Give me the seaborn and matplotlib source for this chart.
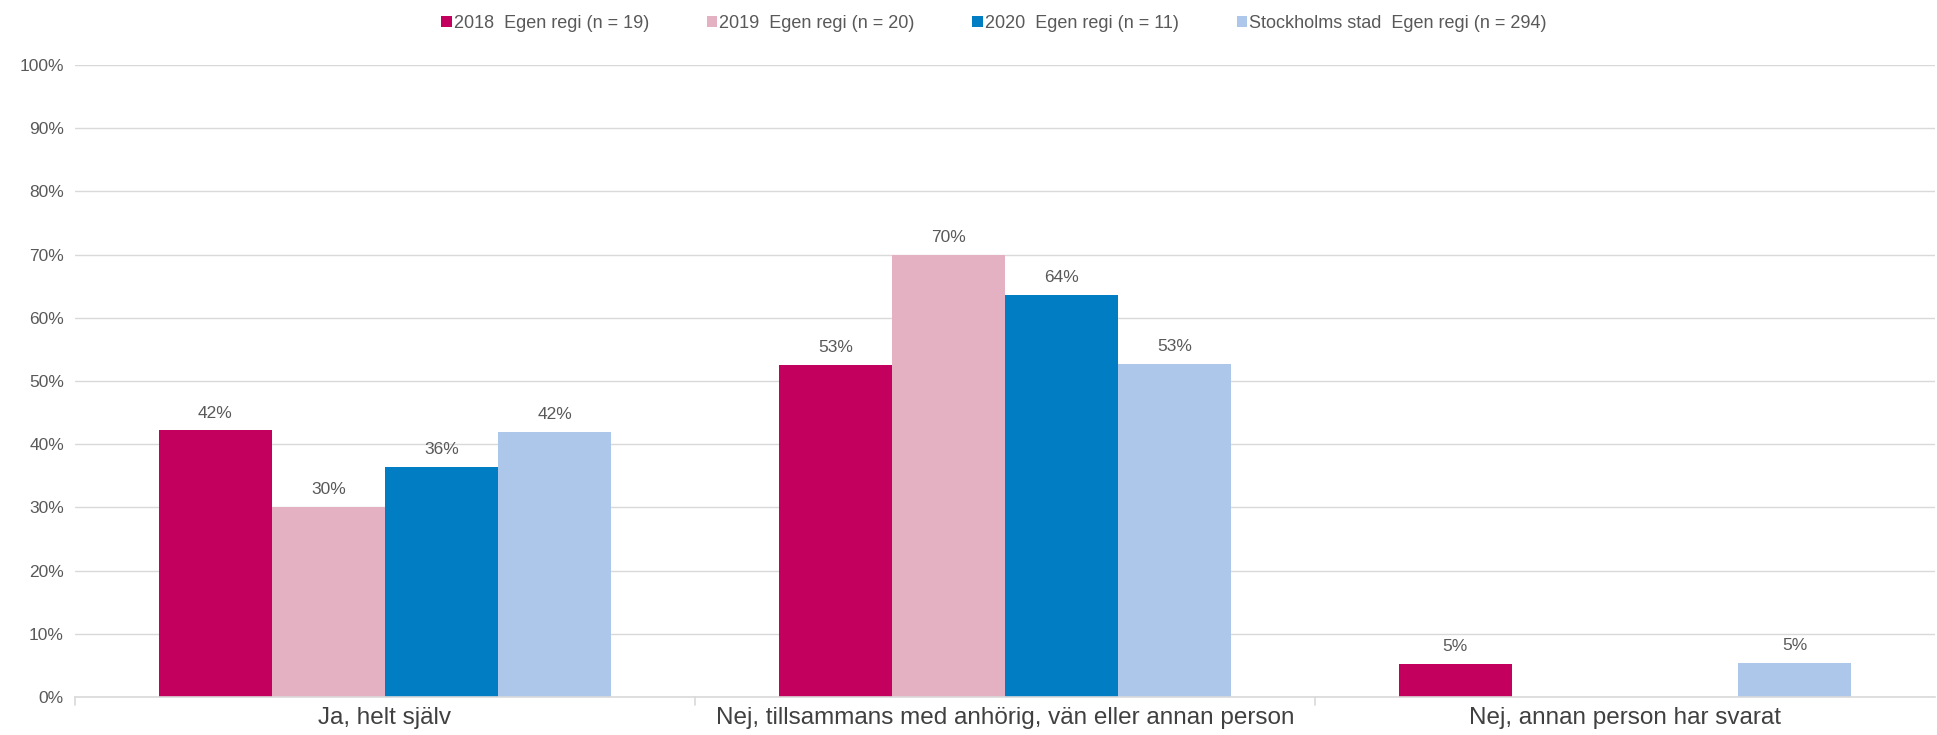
import numpy as np
import pandas as pd
import seaborn as sns
import matplotlib.pyplot as plt

categories = ['Ja, helt själv',
              'Nej, tillsammans med anhörig, vän eller annan person',
              'Nej, annan person har svarat']
series = ['2018  Egen regi (n = 19)', '2019  Egen regi (n = 20)',
          '2020  Egen regi (n = 11)', 'Stockholms stad  Egen regi (n = 294)']
v2018 = [42.2, 52.6, 5.3]
v2019 = [30.1, 70.0, np.nan]
v2020 = [36.4, 63.6, np.nan]
vsthlm = [41.9, 52.7, 5.4]
colors = ['#C4005E', '#E3B1C2', '#007DC3', '#ADC7EB']

rows = []
for name, vals in zip(series, [v2018, v2019, v2020, vsthlm]):
    for c, v in zip(categories, vals):
        rows.append({'kategori': c, 'serie': name, 'andel': v})
df = pd.DataFrame(rows)

sns.set_theme(style='white')
plt.rcParams['font.family'] = ['Liberation Sans', 'DejaVu Sans']
txt = '#595959'

fig = plt.figure(figsize=(19.37, 7.35), dpi=100)
ax = fig.add_axes([75 / 1937, 38 / 735, 1860 / 1937, 632 / 735])

sns.barplot(data=df, x='kategori', y='andel', hue='serie', palette=colors,
            width=0.73, gap=0, saturation=1, linewidth=0, ax=ax, legend=True)

for cont in ax.containers:
    labels = ['' if np.isnan(v) else f'{v:.0f}%' for v in cont.datavalues]
    ax.bar_label(cont, labels=labels, padding=7, fontsize=12.5, color=txt)

ax.set_ylim(0, 100)
ax.set_xlim(-0.5, 2.5)
ax.set_yticks(range(0, 101, 10))
ax.set_yticklabels([f'{t}%' for t in range(0, 101, 10)], fontsize=12.5, color=txt)
ax.set_xlabel('')
ax.set_ylabel('')
ax.tick_params(axis='x', length=0, labelsize=17.5, labelcolor='#404040', pad=7)
ax.tick_params(axis='y', length=0, pad=8)
ax.yaxis.grid(True, color='#D9D9D9', linewidth=1)
ax.set_axisbelow(True)
for s in ['top', 'right', 'left']:
    ax.spines[s].set_visible(False)
ax.spines['bottom'].set_color('#D9D9D9')
ax.spines['bottom'].set_linewidth(1.2)

# små avdelare mellan kategorierna
for xb in [-0.5, 0.5, 1.5]:
    ax.plot([xb, xb], [0, -1.3], color='#D9D9D9', lw=1.2, clip_on=False)

handles, labs = ax.get_legend_handles_labels()
ax.legend(handles, labs, loc='upper center', bbox_to_anchor=(0.494, 1.105), ncol=4,
          frameon=False, handlelength=0.6, handleheight=0.6,
          handletextpad=0.1, columnspacing=3.2,
          prop={'family': ['Liberation Sans Narrow', 'Liberation Sans'], 'size': 13},
          labelcolor=txt)

fig.savefig('out.png', dpi=100)
